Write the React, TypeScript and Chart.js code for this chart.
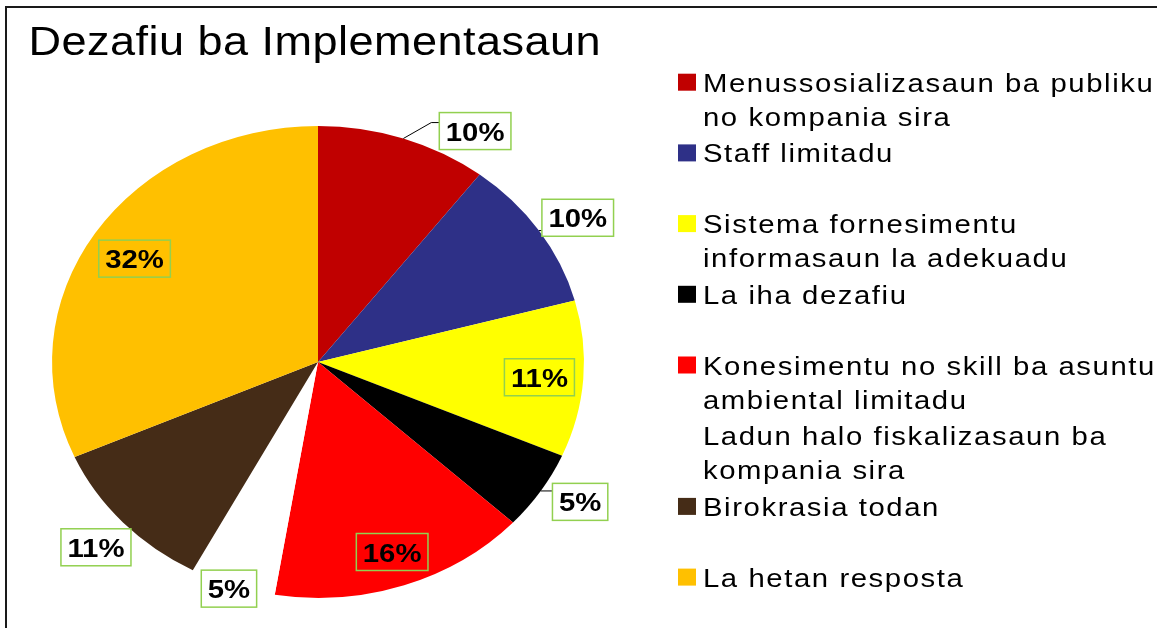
import React, { useEffect, useRef } from "react";
import { Chart, registerables } from "chart.js";

Chart.register(...registerables);

const titleText = "Dezafiu ba Implementasaun";
const categories = [
  "Menussosializasaun ba publiku\nno kompania sira",
  "Staff limitadu",
  "Sistema fornesimentu\ninformasaun la adekuadu",
  "La iha dezafiu",
  "Konesimentu no skill ba asuntu\nambiental limitadu",
  "Ladun halo fiskalizasaun ba\nkompania sira",
  "Birokrasia todan",
  "La hetan resposta",
];
const values = [10.4, 10.4, 10.7, 5.4, 15.7, 5.2, 10.6, 31.6];
const colors = ["#C00000", "#2E3087", "#FFFF00", "#000000", "#FF0000", "#FFFFFF", "#452C17", "#FFC000"];

const W = 1157;
const H = 628;
const SX = 1.127;
const FONT = '"Liberation Sans", Arial, Helvetica, sans-serif';

// label layout (radius fraction, angle shift in degrees) per slice
const labelLayout = [
  { r: 1.143, shift: 12.4 },
  { r: 1.152, shift: 1.8 },
  { r: 0.835, shift: 0.3 },
  { r: 1.15, shift: -2.1 },
  { r: 0.852, shift: -0.2 },
  { r: 1.017, shift: 0.5 },
  { r: 1.146, shift: -0.4 },
  { r: 0.817, shift: -0.7 },
];

function setSpacing(ctx: any, px: number) {
  if ("letterSpacing" in ctx) ctx.letterSpacing = px + "px";
}

// draw text stretched horizontally like the reference, left edge at x
function stretchedText(ctx: any, text: string, x: number, y: number) {
  ctx.save();
  ctx.translate(x, y);
  ctx.scale(SX, 1);
  ctx.fillText(text, 0, 0);
  ctx.restore();
}

const ellipsePlugin = {
  id: "ellipsePie",
  beforeDatasetsDraw(chart: any) {
    const arc = chart.getDatasetMeta(0).data[0];
    if (!arc) return;
    const ctx = chart.ctx;
    ctx.save();
    ctx.translate(arc.x, arc.y);
    ctx.scale(SX, 1);
    ctx.translate(-arc.x, -arc.y);
  },
  afterDatasetsDraw(chart: any) {
    chart.ctx.restore();
  },
};

const decorPlugin = {
  id: "decor",
  afterDraw(chart: any) {
    const ctx = chart.ctx;
    const meta = chart.getDatasetMeta(0);
    const total = values.reduce((a, b) => a + b, 0);

    // frame
    ctx.save();
    ctx.strokeStyle = "#1a1a1a";
    ctx.lineWidth = 2;
    ctx.beginPath();
    ctx.moveTo(6, H);
    ctx.lineTo(6, 7);
    ctx.lineTo(W, 7);
    ctx.stroke();
    ctx.restore();

    // title
    ctx.save();
    ctx.fillStyle = "#000";
    ctx.font = `40px ${FONT}`;
    setSpacing(ctx, 0.4);
    ctx.textBaseline = "alphabetic";
    ctx.textAlign = "left";
    stretchedText(ctx, titleText, 28.5, 55);
    ctx.restore();

    // legend
    ctx.save();
    ctx.font = `26px ${FONT}`;
    setSpacing(ctx, 1.4);
    ctx.textBaseline = "alphabetic";
    ctx.textAlign = "left";
    const slotTop = 91.7;
    const slotH = 70.7;
    const lineH = 34;
    categories.forEach((c, i) => {
      const base = slotTop + i * slotH;
      ctx.fillStyle = colors[i];
      ctx.fillRect(678, base - 18, 18, 17);
      ctx.fillStyle = "#000";
      c.split("\n").forEach((ln, j) => stretchedText(ctx, ln, 703, base + j * lineH));
    });
    ctx.restore();

    // data labels
    ctx.save();
    ctx.font = `bold 26px ${FONT}`;
    setSpacing(ctx, 0);
    ctx.textBaseline = "alphabetic";
    ctx.textAlign = "left";
    meta.data.forEach((arc: any, i: number) => {
      const R = arc.outerRadius;
      const cx = arc.x;
      const cy = arc.y;
      const mid = (arc.startAngle + arc.endAngle) / 2;
      const lay = labelLayout[i];
      const a = mid + (lay.shift * Math.PI) / 180;
      const lx = cx + Math.cos(a) * R * lay.r * SX;
      const ly = cy + Math.sin(a) * R * lay.r;
      const text = Math.round((values[i] / total) * 100) + "%";
      const tw = ctx.measureText(text).width * SX;
      const bw = tw + 13;
      const bh = 37;
      const left = lx - bw / 2;
      const top = ly - bh / 2;

      if (lay.r > 1) {
        const ax = cx + Math.cos(mid) * R * SX;
        const ay = cy + Math.sin(mid) * R;
        const nx = Math.min(Math.max(ax, left), left + bw);
        const ny = Math.min(Math.max(ay, top), top + bh);
        if (Math.abs(nx - ax) > 0.5) {
          ctx.strokeStyle = "#000";
          ctx.lineWidth = 1;
          ctx.beginPath();
          if (Math.abs(nx - ax) > 15) {
            const ey = top + 10;
            ctx.moveTo(ax, ay);
            ctx.lineTo(nx - 8, ey);
            ctx.lineTo(nx, ey);
          } else {
            ctx.moveTo(ax, ay);
            ctx.lineTo(nx, ny);
          }
          ctx.stroke();
        }
        ctx.fillStyle = "#fff";
        ctx.fillRect(left, top, bw, bh);
      }
      ctx.strokeStyle = "#92D050";
      ctx.lineWidth = 1.5;
      ctx.strokeRect(left, top, bw, bh);
      ctx.fillStyle = "#000";
      stretchedText(ctx, text, lx - tw / 2, ly + 9.5);
    });
    ctx.restore();
  },
};

export default function App() {
  const ref = useRef<HTMLCanvasElement>(null);
  useEffect(() => {
    if (!ref.current) return;
    const chart = new Chart(ref.current, {
      type: "pie",
      data: {
        labels: categories,
        datasets: [
          {
            data: values,
            backgroundColor: colors,
            borderWidth: 0,
            hoverOffset: 0,
            offset: 0,
            clip: false,
          } as any,
        ],
      },
      options: {
        responsive: false,
        animation: false,
        events: [],
        layout: { padding: { left: 82, right: 603, top: 126, bottom: 30 } },
        plugins: {
          legend: { display: false },
          title: { display: false },
          tooltip: { enabled: false },
        },
      },
      plugins: [ellipsePlugin, decorPlugin],
    });
    return () => chart.destroy();
  }, []);
  return (
    <div style={{ position: "fixed", left: 0, top: 0, width: W, height: H, background: "#fff" }}>
      <canvas ref={ref} width={W} height={H} style={{ display: "block" }} />
    </div>
  );
}
